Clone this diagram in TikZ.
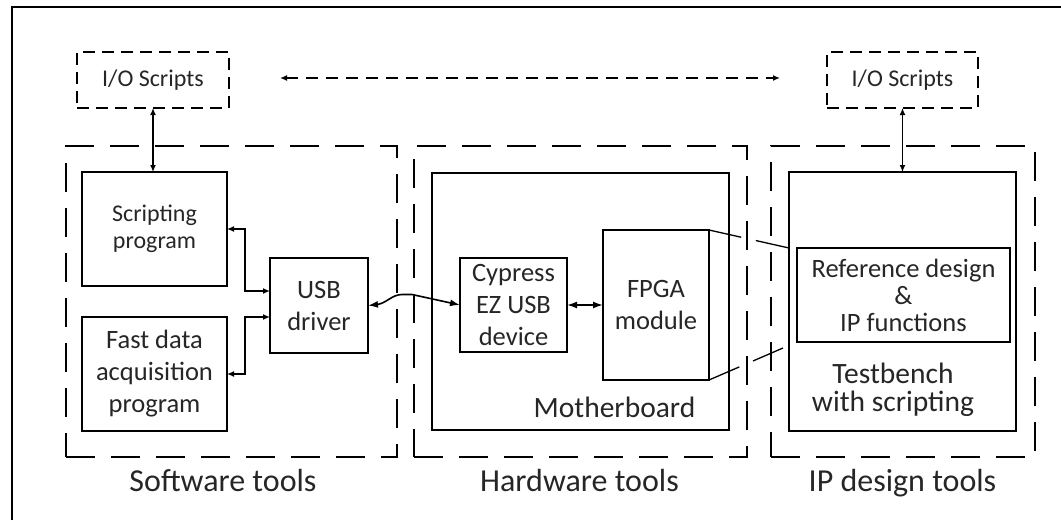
\documentclass[tikz,border=0pt]{standalone}
\usepackage{fontspec}
\setmainfont{Carlito}
\usetikzlibrary{arrows.meta,calc}
\tikzset{
  lw/.style={line width=1.6pt},
  box/.style={draw, lw, inner sep=0pt, outer sep=0pt, align=center, text=black!85},
  grp/.style={draw, line width=1.7pt, dash pattern=on 29pt off 16pt, inner sep=0pt, outer sep=0pt},
  iobox/.style={draw, line width=1.6pt, dash pattern=on 12pt off 7pt, inner sep=0pt, outer sep=0pt, text=black!85},
  conn/.style={lw, {Latex[length=7pt,width=6pt]}-{Latex[length=7pt,width=6pt]}},
  bigconn/.style={lw, {Latex[length=10pt,width=7pt]}-{Latex[length=10pt,width=7pt]}},
  fsA/.style={font=\fontsize{26.5}{32}\selectfont},
  fsB/.style={font=\fontsize{24}{27}\selectfont},
  fsC/.style={font=\fontsize{29.5}{28}\selectfont},
  fsD/.style={font=\fontsize{32}{36}\selectfont},
  lbl/.style={text=black!85, inner sep=0pt, align=center},
}
\begin{document}
\begin{tikzpicture}[x=1pt,y=-1pt]
\useasboundingbox (0,0) rectangle (1061,520);
% outer frame (left and top edges)
\draw[line width=1.8pt] (12,520) -- (12,7) -- (1061,7);

% group boxes
\node[grp, minimum width=331pt, minimum height=311pt] (sw) at (231.5,301.5) {};
\node[grp, minimum width=333pt, minimum height=311pt] (hw) at (580.5,301.5) {};
\node[grp, minimum width=264pt, minimum height=311pt] (ip) at (903,301.5) {};

% I/O scripts
\node[iobox, fsB, minimum width=152pt, minimum height=56pt] (io1) at (153,80) {I/O Scripts};
\node[iobox, fsB, minimum width=151pt, minimum height=56pt] (io2) at (902.5,80) {I/O Scripts};

% software
\node[box, fsB, minimum width=145pt, minimum height=114pt] (sp) at (154.5,229) {Scripting\\program};
\node[box, fsA, minimum width=145pt, minimum height=114pt] (fd) at (154.5,374) {Fast data\\acquisition\\program};
\node[box, fsA, minimum width=98pt, minimum height=95pt] (usb) at (319,305.5) {USB\\driver};

% hardware
\node[box, minimum width=297pt, minimum height=257pt] (mb) at (580.5,301.5) {};
\node[box, fsA, minimum width=107pt, minimum height=94pt] (cy) at (513.5,305) {Cypress\\EZ USB\\device};
\node[box, fsA, minimum width=106pt, minimum height=150pt] (fpga) at (656,305) {FPGA\\module};
\node[lbl, fsC, anchor=base] (mbl) at (614.5,417) {Motherboard};

% IP design
\node[box, minimum width=227pt, minimum height=259pt] (tb) at (902.5,301.5) {};
\node[box, fsA, font=\fontsize{26.5}{27}\selectfont, minimum width=213pt, minimum height=94pt] (ref) at (903.5,295) {Reference design\\\&\\IP functions};
\node[lbl, fsC] (tbl) at (893,390) {Testbench\\with scripting};

% group labels
\node[lbl, fsD, anchor=base] (swl) at (223,491) {Software tools};
\node[lbl, fsD, anchor=base] (hwl) at (579.5,491) {Hardware tools};
\node[lbl, fsD, anchor=base] (ipl) at (902.5,491) {IP design tools};

% connectors
\coordinate (dl) at (280,78);
\coordinate (dr) at (780,78);
\draw[conn, dash pattern=on 12pt off 8pt] (dl) -- (dr);
\draw[conn] (io1.south) -- (io1.south |- sp.north);
\draw[conn] (io2.south) -- (io2.south |- tb.north);
\draw[conn] (sp.east) -- ++(18,0) |- ($(usb.west)+(0,-14.5)$);
\draw[conn] (fd.east) -- ++(18,0) |- ($(usb.west)+(0,11.5)$);
\draw[bigconn] (usb.east) .. controls +(18,-2) and +(-10,0) .. ++(34,-11) -- ++(10,0) -- (cy.west);
\draw[bigconn] (cy.east) -- (fpga.west);
\coordinate (fb) at (783,348);
\draw[lw, line width=1.3pt, dash pattern=on 33pt off 15pt on 60pt] (fpga.north east) -- (tb.west |- ref.north);
\draw[lw, line width=1.3pt, dash pattern=on 33pt off 15pt on 60pt] (fpga.south east) -- (fb);
\end{tikzpicture}
\end{document}
